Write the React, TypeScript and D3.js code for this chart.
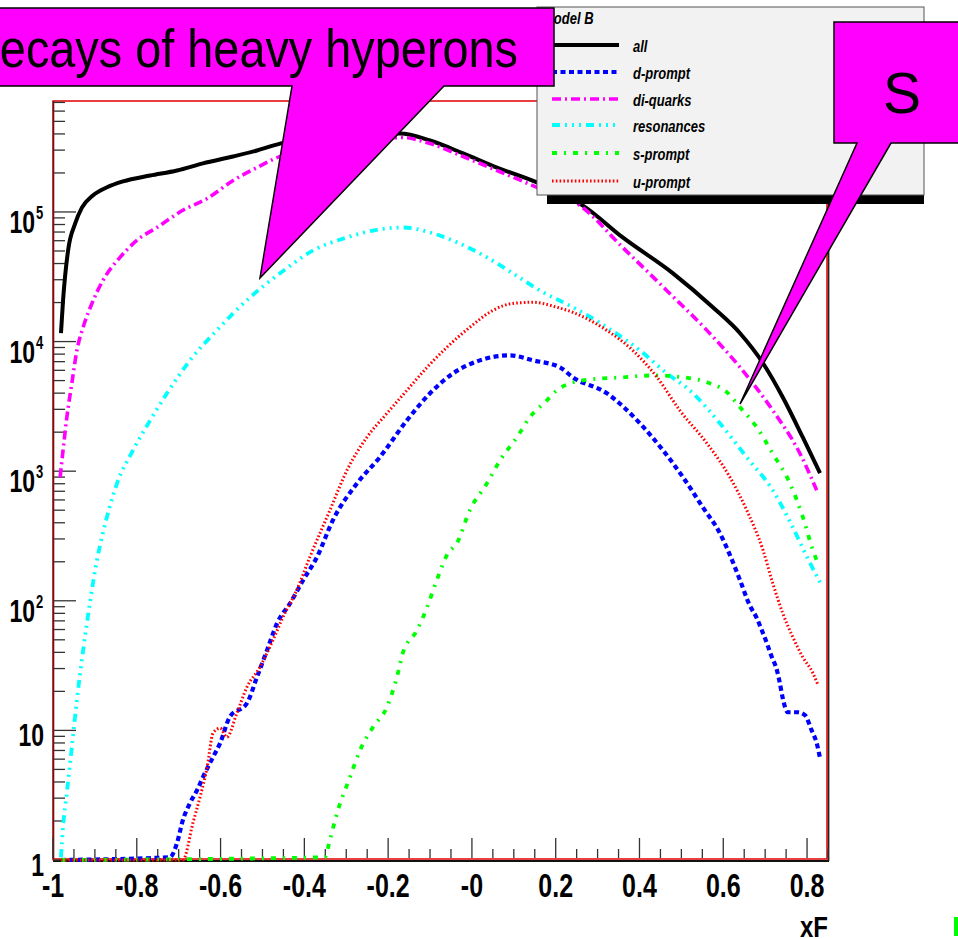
import React from 'react';
import * as d3 from 'd3';

const W = 958;
const H = 939;

// curves: [xF, entries]
const allCurve: [number, number][] = [
  [-0.981, 1.16e4], [-0.976, 2.08e4], [-0.964, 5.05e4], [-0.947, 8.15e4], [-0.931, 1.08e5],
  [-0.905, 1.34e5], [-0.871, 1.55e5], [-0.833, 1.72e5], [-0.768, 1.91e5], [-0.704, 2.09e5],
  [-0.642, 2.37e5], [-0.57, 2.68e5], [-0.513, 2.98e5], [-0.458, 3.37e5], [-0.38, 3.7e5],
  [-0.28, 3.95e5], [-0.172, 4.03e5], [-0.1, 3.56e5], [-0.021, 2.83e5], [0.06, 2.2e5],
  [0.155, 1.69e5], [0.21, 1.4e5], [0.265, 1.12e5], [0.36, 6.36e4], [0.48, 3.36e4],
  [0.575, 1.84e4], [0.64, 1.16e4], [0.695, 6800], [0.742, 3720], [0.79, 1820], [0.831, 964],
];
const dPrompt: [number, number][] = [
  [-0.981, 1], [-0.721, 1.05], [-0.704, 1.35], [-0.69, 2.03], [-0.673, 2.75], [-0.656, 3.46],
  [-0.642, 4.36], [-0.618, 6.22], [-0.601, 7.98], [-0.578, 12.7], [-0.537, 16.2], [-0.513, 25.8],
  [-0.489, 41.6], [-0.465, 67.2], [-0.434, 95.7], [-0.403, 144], [-0.37, 217], [-0.332, 418],
  [-0.274, 807], [-0.22, 1280], [-0.155, 2470], [-0.1, 3990], [-0.045, 5690], [0.019, 7160],
  [0.091, 7830], [0.146, 7160], [0.21, 6330], [0.241, 5300], [0.322, 3990], [0.401, 2340],
  [0.456, 1450], [0.504, 897], [0.551, 527], [0.592, 332], [0.616, 225], [0.64, 144],
  [0.663, 92.5], [0.68, 73.4], [0.692, 59.3], [0.704, 47.1], [0.716, 36.7], [0.728, 29.2],
  [0.735, 23.2], [0.742, 17.7], [0.754, 13.8], [0.778, 13.8], [0.795, 13.1], [0.811, 10],
  [0.823, 7.98], [0.831, 6.11],
];
const diQuarks: [number, number][] = [
  [-0.983, 897], [-0.976, 1450], [-0.967, 2600], [-0.955, 4760], [-0.943, 8550],
  [-0.928, 1.29e4], [-0.907, 1.97e4], [-0.881, 2.96e4], [-0.84, 4.46e4], [-0.8, 6.03e4],
  [-0.752, 7.59e4], [-0.69, 1.03e5], [-0.632, 1.27e5], [-0.57, 1.75e5], [-0.513, 2.2e5],
  [-0.465, 2.63e5], [-0.38, 3.15e5], [-0.28, 3.6e5], [-0.165, 3.75e5], [-0.1, 3.37e5],
  [-0.021, 2.68e5], [0.06, 2.09e5], [0.155, 1.55e5], [0.258, 1.12e5], [0.36, 5.32e4],
  [0.465, 2.48e4], [0.561, 1.22e4], [0.64, 6330], [0.718, 2950], [0.783, 1370], [0.823, 713],
];
const resonances: [number, number][] = [
  [-0.981, 1.05], [-0.976, 1.8], [-0.967, 3.29], [-0.955, 7.43], [-0.943, 17.1], [-0.928, 41.6],
  [-0.912, 95.7], [-0.895, 206], [-0.881, 332], [-0.847, 807], [-0.809, 1450], [-0.768, 2470],
  [-0.728, 3990], [-0.673, 7160], [-0.609, 1.22e4], [-0.53, 2.19e4], [-0.458, 3.36e4],
  [-0.379, 5.05e4], [-0.298, 6.36e4], [-0.236, 7.19e4], [-0.165, 7.59e4], [-0.1, 6.95e4],
  [-0.029, 5.71e4], [0.036, 4.46e4], [0.098, 3.36e4], [0.162, 2.48e4], [0.241, 1.84e4],
  [0.322, 1.29e4], [0.401, 8550], [0.465, 5690], [0.52, 4210], [0.592, 2340], [0.656, 1280],
  [0.718, 713], [0.766, 369], [0.8, 217], [0.831, 139],
];
const sPrompt: [number, number][] = [
  [-0.981, 1], [-0.351, 1.05], [-0.339, 1.43], [-0.322, 2.3], [-0.291, 4.36], [-0.267, 7.05],
  [-0.236, 10.6], [-0.203, 15.1], [-0.179, 25.8], [-0.165, 39.5], [-0.131, 59.3], [-0.107, 89.3],
  [-0.084, 144], [-0.057, 233], [-0.036, 278], [-0.005, 500], [0.036, 807], [0.067, 1210],
  [0.107, 1820], [0.138, 2600], [0.179, 3520], [0.203, 4210], [0.265, 5020], [0.36, 5300],
  [0.442, 5490], [0.504, 5300], [0.561, 4850], [0.609, 4060], [0.64, 3110], [0.68, 2180],
  [0.718, 1370], [0.759, 807], [0.79, 442], [0.814, 245], [0.828, 188],
];
const uPrompt: [number, number][] = [
  [-0.981, 1], [-0.69, 1], [-0.666, 1.93], [-0.649, 3.06], [-0.632, 5.21], [-0.618, 9.53],
  [-0.601, 10.4], [-0.585, 8.87], [-0.561, 13.6], [-0.537, 21.6], [-0.506, 30.8], [-0.475, 49.7],
  [-0.451, 74.8], [-0.418, 121], [-0.387, 217], [-0.339, 500], [-0.298, 1020], [-0.251, 1820],
  [-0.203, 2790], [-0.155, 4210], [-0.107, 6330], [-0.06, 9020], [-0.005, 1.29e4], [0.05, 1.74e4],
  [0.098, 1.97e4], [0.146, 2.01e4], [0.203, 1.84e4], [0.241, 1.68e4], [0.322, 1.22e4],
  [0.384, 8550], [0.442, 5300], [0.496, 2950], [0.561, 1640], [0.616, 897], [0.656, 500],
  [0.695, 245], [0.718, 137], [0.742, 80.2], [0.766, 52.4], [0.79, 36.7], [0.814, 27.7],
  [0.826, 22.4],
];

const seriesNames = ['all', 'd-prompt', 'di-quarks', 'resonances', 's-prompt', 'u-prompt'];
const seriesData = [allCurve, dPrompt, diQuarks, resonances, sPrompt, uPrompt];
const seriesColors = ['#000000', '#0000ff', '#ff00ff', '#00ffff', '#00ff00', '#ff0000'];
const seriesWidths = [4, 4.2, 3.6, 3.8, 3.8, 3];
const seriesDash = [undefined, '5 3.5', '9 4 2 4', '8 5 2 5 2 5 2 5', '5 7 2 7', '1.6 2.2'];

const xTickValues = [-1, -0.8, -0.6, -0.4, -0.2, 0, 0.2, 0.4, 0.6, 0.8];
const xTickLabels = ['-1', '-0.8', '-0.6', '-0.4', '-0.2', '-0', '0.2', '0.4', '0.6', '0.8'];
const yDecades = [1, 10, 100, 1000, 1e4, 1e5];
const yLabelBase = ['1', '10', '10', '10', '10', '10'];
const yLabelExp = ['', '', '2', '3', '4', '5'];

const FONT = '"Liberation Sans", Arial, Helvetica, sans-serif';

const frame = { left: 53, top: 101, right: 827, bottom: 859 };

export default function App() {
  const x = d3.scaleLinear().domain([-1, 0.85]).range([frame.left, frame.right + 1]);
  const y = d3.scaleLog().domain([1, 7.18e5]).range([860, frame.top]);
  const line = d3.line<[number, number]>()
    .x(d => x(d[0]))
    .y(d => y(Math.max(1, d[1])))
    .curve(d3.curveMonotoneX);

  const minorX = d3.range(-1, 0.851, 0.05).filter(v => Math.abs(Math.round(v * 5) - v * 5) > 1e-6);
  const minorY: number[] = [];
  for (let e = 0; e < 6; e++) {
    for (let m = 2; m <= 9; m++) {
      const v = m * Math.pow(10, e);
      if (v < 7.18e5) minorY.push(v);
    }
  }

  const legend = { x: 537, y: 7, w: 387, h: 188 };
  const legendRowY = [45, 72, 99, 125, 153, 181];

  return (
    <svg width={W} height={H} style={{ position: 'absolute', left: 0, top: 0, background: '#fff' }}
      fontFamily={FONT}>
      <rect x={0} y={0} width={W} height={H} fill="#fff" />

      {/* frame */}
      <line x1={frame.left} x2={frame.right + 2} y1={861} y2={861} stroke="#111" strokeWidth={2.2} />
      <line x1={frame.right + 1.5} x2={frame.right + 1.5} y1={frame.top} y2={861} stroke="#222" strokeWidth={1.8} />
      <rect x={frame.left} y={frame.top} width={frame.right - frame.left} height={frame.bottom - frame.top}
        fill="none" stroke="#e00000" strokeWidth={1.5} />
      <line x1={frame.left + 0.5} x2={frame.left + 0.5} y1={frame.top} y2={861} stroke="#6e1414" strokeWidth={1.6} />

      {/* x ticks */}
      {xTickValues.map(v => (
        <line key={'xt' + v} x1={x(v)} x2={x(v)} y1={858} y2={838} stroke="#333" strokeWidth={1.3} />
      ))}
      {minorX.map(v => (
        <line key={'xm' + v} x1={x(v)} x2={x(v)} y1={858} y2={849} stroke="#333" strokeWidth={1.3} />
      ))}
      {xTickLabels.map((t, i) => (
        <text key={'xl' + t} transform={`translate(${x(xTickValues[i])},897) scale(1,1.3)`}
          textAnchor="middle" fontSize={25} fontWeight="bold" fill="#000">{t}</text>
      ))}
      <text transform="translate(828,937) scale(1,1.2)" textAnchor="end" fontSize={24}
        fontWeight="bold" fill="#000">xF</text>

      {/* y ticks */}
      {yDecades.map(v => (
        <line key={'yt' + v} x1={frame.left} x2={frame.left + 23} y1={y(v)} y2={y(v)} stroke="#333" strokeWidth={1.3} />
      ))}
      {minorY.map(v => (
        <line key={'ym' + v} x1={frame.left} x2={frame.left + 12} y1={y(v)} y2={y(v)} stroke="#333" strokeWidth={1.3} />
      ))}
      {yDecades.map((v, i) => yLabelExp[i] ? (
        <g key={'yl' + v}>
          <text transform={`translate(35,${y(v) + 21}) scale(1,1.35)`} textAnchor="end" fontSize={23}
            fontWeight="bold" fill="#000">{yLabelBase[i]}</text>
          <text transform={`translate(36,${y(v) + 7}) scale(1,1.45)`} textAnchor="start" fontSize={13}
            fontWeight="bold" fill="#000">{yLabelExp[i]}</text>
        </g>
      ) : (
        <text key={'yl' + v} transform={`translate(44,${y(v) + 16}) scale(1,1.35)`} textAnchor="end"
          fontSize={23} fontWeight="bold" fill="#000">{yLabelBase[i]}</text>
      ))}

      {/* curves */}
      <g>
        {seriesData.map((d, i) => (
          <path key={seriesNames[i]} d={line(d) || ''} fill="none" stroke={seriesColors[i]}
            strokeWidth={seriesWidths[i]} strokeDasharray={seriesDash[i]} strokeLinejoin="round" />
        ))}
      </g>

      {/* legend */}
      <rect x={legend.x + 10} y={legend.y + legend.h} width={legend.w - 10} height={9} fill="#000" />
      <rect x={legend.x} y={legend.y} width={legend.w} height={legend.h} fill="#f2f2f2" stroke="#555" strokeWidth={1} />
      <text transform="translate(543,24) scale(1,1.3)" fontSize={13} fontStyle="italic" fontWeight="bold" fill="#000">Model B</text>
      {seriesNames.map((n, i) => (
        <g key={'lg' + n}>
          <line x1={552} x2={619} y1={legendRowY[i]} y2={legendRowY[i]} stroke={seriesColors[i]}
            strokeWidth={seriesWidths[i]} strokeDasharray={seriesDash[i]} />
          <text transform={`translate(633,${legendRowY[i] + 7}) scale(1,1.3)`} fontSize={13}
            fontStyle="italic" fontWeight="bold" fill="#000">{n}</text>
        </g>
      ))}

      {/* callout: heavy hyperons */}
      <path d="M-5,8 L554,8 L554,86 L444,86 L260,278 L292,86 L-5,86 Z" fill="#ff00ff" stroke="#000" strokeWidth={1.5} />
      <text x={-34} y={67} fontSize={53} textLength={552} lengthAdjust="spacingAndGlyphs" fill="#000">
        Decays of heavy hyperons
      </text>

      {/* callout: S */}
      <path d="M965,22 L834,22 L834,143 L857,143 L740,404 L891,143 L965,143 Z" fill="#ff00ff" stroke="#000" strokeWidth={1.5} />
      <text x={902} y={113} fontSize={57} textAnchor="middle" fill="#000">S</text>

      <rect x={954} y={917} width={4} height={19} fill="#00ff00" />
    </svg>
  );
}
